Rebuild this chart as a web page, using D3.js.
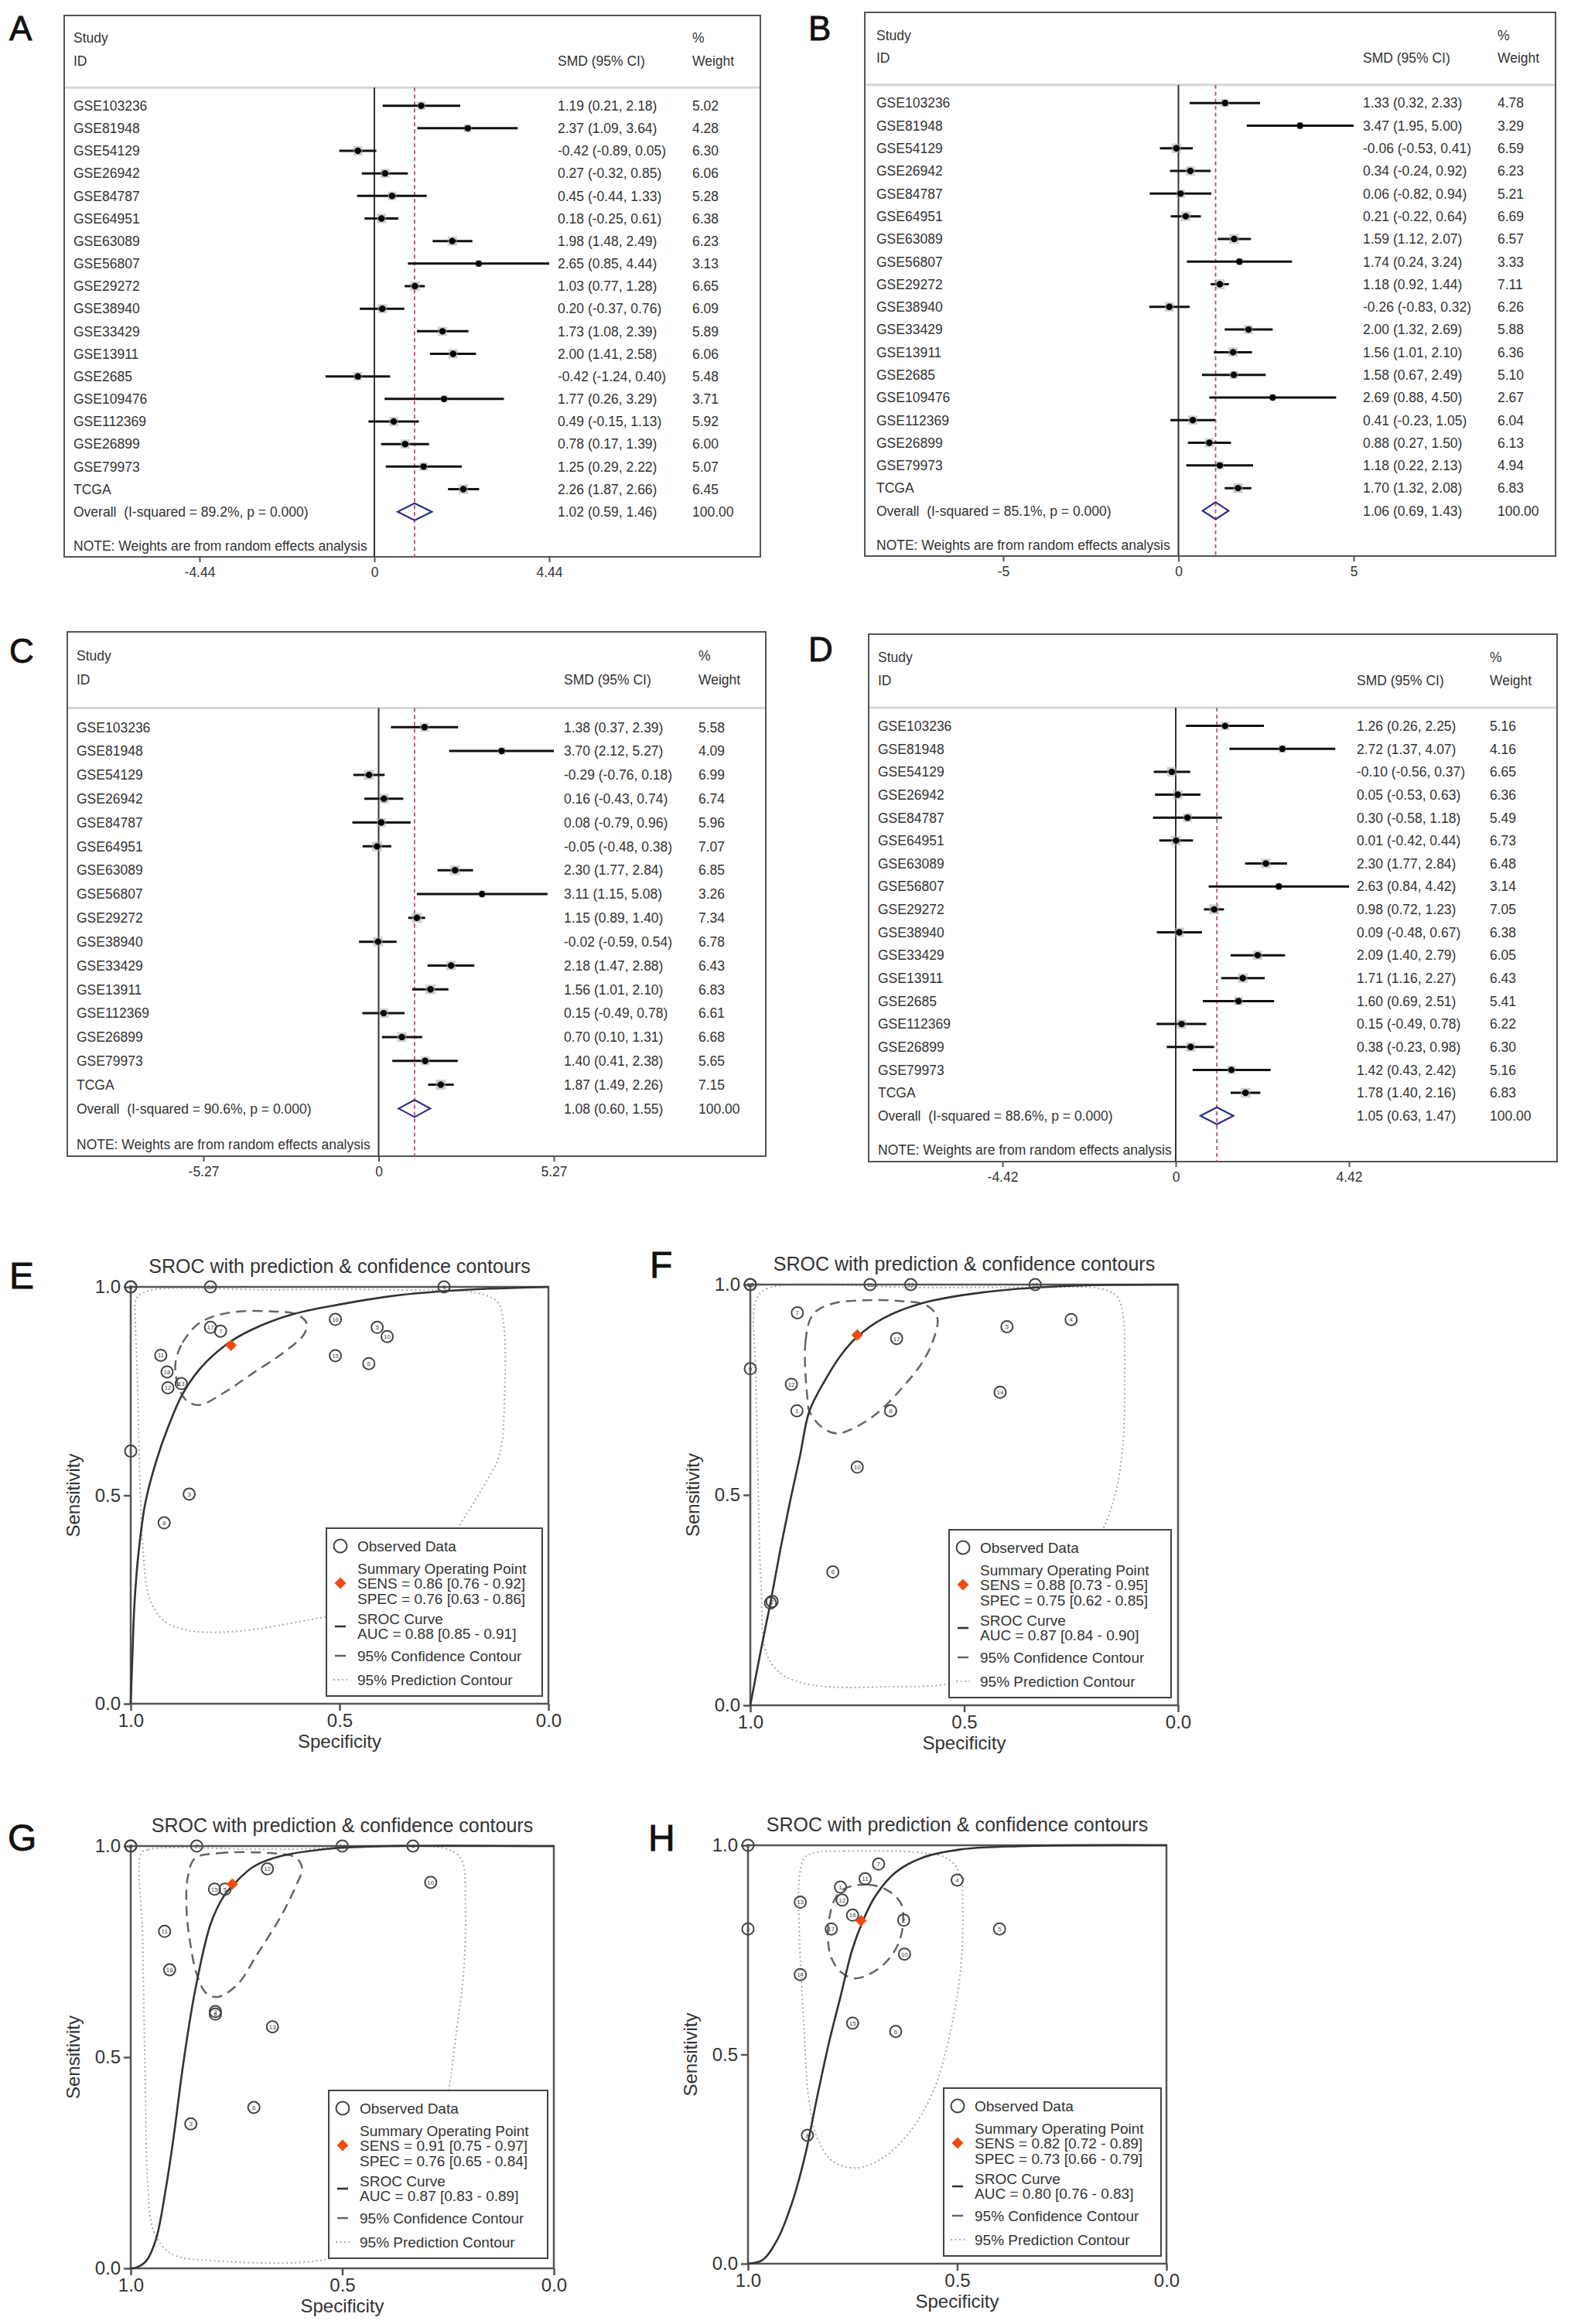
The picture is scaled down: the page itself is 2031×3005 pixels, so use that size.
<!DOCTYPE html>
<html>
<head>
<meta charset="utf-8">
<script src="https://cdn.jsdelivr.net/npm/d3@7"></script>
<style>
  body { margin: 0; background: #fff; }
  svg { display: block; }
  text { font-family: "Liberation Sans", Arial, Helvetica, sans-serif; }
</style>
</head>
<body>
<div id="chart"></div>
<script>
// ---------- forest plot data ----------
const studiesAB = ["GSE103236","GSE81948","GSE54129","GSE26942","GSE84787","GSE64951","GSE63089","GSE56807","GSE29272","GSE38940","GSE33429","GSE13911","GSE2685","GSE109476","GSE112369","GSE26899","GSE79973","TCGA"];
const studiesC = ["GSE103236","GSE81948","GSE54129","GSE26942","GSE84787","GSE64951","GSE63089","GSE56807","GSE29272","GSE38940","GSE33429","GSE13911","GSE112369","GSE26899","GSE79973","TCGA"];
const studiesD = ["GSE103236","GSE81948","GSE54129","GSE26942","GSE84787","GSE64951","GSE63089","GSE56807","GSE29272","GSE38940","GSE33429","GSE13911","GSE2685","GSE112369","GSE26899","GSE79973","TCGA"];

// [SMD, lower CI, upper CI, % weight]
const forestA = [[1.19,0.21,2.18,5.02],[2.37,1.09,3.64,4.28],[-0.42,-0.89,0.05,6.30],[0.27,-0.32,0.85,6.06],[0.45,-0.44,1.33,5.28],[0.18,-0.25,0.61,6.38],[1.98,1.48,2.49,6.23],[2.65,0.85,4.44,3.13],[1.03,0.77,1.28,6.65],[0.20,-0.37,0.76,6.09],[1.73,1.08,2.39,5.89],[2.00,1.41,2.58,6.06],[-0.42,-1.24,0.40,5.48],[1.77,0.26,3.29,3.71],[0.49,-0.15,1.13,5.92],[0.78,0.17,1.39,6.00],[1.25,0.29,2.22,5.07],[2.26,1.87,2.66,6.45]];
const forestB = [[1.33,0.32,2.33,4.78],[3.47,1.95,5.00,3.29],[-0.06,-0.53,0.41,6.59],[0.34,-0.24,0.92,6.23],[0.06,-0.82,0.94,5.21],[0.21,-0.22,0.64,6.69],[1.59,1.12,2.07,6.57],[1.74,0.24,3.24,3.33],[1.18,0.92,1.44,7.11],[-0.26,-0.83,0.32,6.26],[2.00,1.32,2.69,5.88],[1.56,1.01,2.10,6.36],[1.58,0.67,2.49,5.10],[2.69,0.88,4.50,2.67],[0.41,-0.23,1.05,6.04],[0.88,0.27,1.50,6.13],[1.18,0.22,2.13,4.94],[1.70,1.32,2.08,6.83]];
const forestC = [[1.38,0.37,2.39,5.58],[3.70,2.12,5.27,4.09],[-0.29,-0.76,0.18,6.99],[0.16,-0.43,0.74,6.74],[0.08,-0.79,0.96,5.96],[-0.05,-0.48,0.38,7.07],[2.30,1.77,2.84,6.85],[3.11,1.15,5.08,3.26],[1.15,0.89,1.40,7.34],[-0.02,-0.59,0.54,6.78],[2.18,1.47,2.88,6.43],[1.56,1.01,2.10,6.83],[0.15,-0.49,0.78,6.61],[0.70,0.10,1.31,6.68],[1.40,0.41,2.38,5.65],[1.87,1.49,2.26,7.15]];
const forestD = [[1.26,0.26,2.25,5.16],[2.72,1.37,4.07,4.16],[-0.10,-0.56,0.37,6.65],[0.05,-0.53,0.63,6.36],[0.30,-0.58,1.18,5.49],[0.01,-0.42,0.44,6.73],[2.30,1.77,2.84,6.48],[2.63,0.84,4.42,3.14],[0.98,0.72,1.23,7.05],[0.09,-0.48,0.67,6.38],[2.09,1.40,2.79,6.05],[1.71,1.16,2.27,6.43],[1.60,0.69,2.51,5.41],[0.15,-0.49,0.78,6.22],[0.38,-0.23,0.98,6.30],[1.42,0.43,2.42,5.16],[1.78,1.40,2.16,6.83]];

const overallA = [1.02,0.59,1.46], isqA = "89.2%";
const overallB = [1.06,0.69,1.43], isqB = "85.1%";
const overallC = [1.08,0.60,1.55], isqC = "90.6%";
const overallD = [1.05,0.63,1.47], isqD = "88.6%";

const ticksA = [-4.44, 0, 4.44];
const ticksB = [-5, 0, 5];
const ticksC = [-5.27, 0, 5.27];
const ticksD = [-4.42, 0, 4.42];

// ---------- SROC data: [specificity, sensitivity, study no.] ----------
const pointsE = [[1,1,2],[1,1,9],[.809,1,14],[.25,1,4],[.51,.922,16],[.809,.903,17],[.785,.894,7],[.41,.903,5],[.386,.881,10],[.928,.836,11],[.51,.835,15],[.43,.816,6],[.913,.796,18],[.911,.758,12],[.879,.768,13],[1,.606,1],[.86,.503,3],[.92,.434,8]];
const pointsF = [[1,1,16],[1,1,18],[.72,1,11],[.625,1,13],[.334,1,15],[.89,.933,7],[.25,.917,4],[.40,.90,5],[.658,.872,17],[1,.80,9],[.904,.763,12],[.416,.744,14],[.891,.70,1],[.672,.70,8],[.75,.566,10],[.807,.317,6],[.953,.243,3],[.949,.247,2]];
const pointsG = [[1,1,1],[1,1,9],[.844,1,7],[.50,1,14],[.333,1,4],[.677,.946,12],[.291,.914,10],[.802,.898,15],[.777,.898,5],[.92,.798,11],[.908,.707,16],[.80,.602,8],[.80,.608,2],[.665,.572,13],[.709,.381,6],[.858,.342,3]];
const pointsH = [[1,1,9],[.688,.955,7],[.72,.92,11],[.50,.917,4],[.779,.90,1],[.875,.864,13],[.775,.869,12],[.75,.833,16],[.628,.821,2],[1,.80,3],[.801,.80,17],[.399,.80,5],[.626,.74,10],[.875,.691,14],[.75,.575,15],[.647,.555,6],[.858,.307,8]];

const summaryE = [0.76, 0.86], summaryF = [0.75, 0.88], summaryG = [0.76, 0.91], summaryH = [0.73, 0.82];

// SROC curves [spec, sens]
const curveE = [[1,0],[.996,.114],[.991,.24],[.981,.365],[.965,.482],[.939,.582],[.91,.665],[.876,.743],[.833,.805],[.768,.864],[.709,.898],[.61,.935],[.494,.959],[.351,.981],[.196,.993],[0,1]];
const curveF = [[1,0],[.977,.122],[.953,.243],[.93,.369],[.907,.485],[.884,.592],[.862,.699],[.825,.773],[.789,.831],[.751,.875],[.689,.92],[.598,.956],[.461,.981],[.279,.996],[0,1]];
const curveG = [[1,0],[.986,.002],[.963,.018],[.94,.07],[.917,.189],[.899,.308],[.876,.483],[.848,.657],[.811,.816],[.779,.883],[.755,.911],[.71,.951],[.646,.976],[.526,.994],[.388,1],[0,1]];
const curveH = [[1,0],[.965,.009],[.928,.061],[.891,.157],[.863,.261],[.835,.397],[.807,.526],[.779,.638],[.751,.75],[.726,.818],[.696,.878],[.649,.934],[.584,.97],[.492,.99],[.353,.998],[0,1]];

// 95% confidence contours
const confE = [[.892,.823],[.876,.866],[.839,.911],[.796,.931],[.74,.941],[.66,.941],[.605,.935],[.579,.913],[.586,.885],[.635,.842],[.709,.792],[.772,.749],[.833,.717],[.857,.721],[.874,.736],[.891,.781]];
const confF = [[.866,.724],[.871,.864],[.853,.93],[.807,.955],[.725,.963],[.652,.961],[.589,.951],[.563,.922],[.571,.872],[.598,.815],[.643,.757],[.698,.699],[.752,.662],[.798,.646],[.834,.662],[.862,.699]];
const confG = [[.848,.971],[.793,.983],[.664,.983],[.609,.972],[.595,.947],[.609,.907],[.646,.832],[.701,.744],[.747,.673],[.793,.643],[.821,.651],[.844,.697],[.859,.768],[.868,.848],[.865,.927]];
const confH = [[.77,.896],[.714,.906],[.668,.893],[.635,.862],[.629,.822],[.64,.766],[.673,.718],[.714,.69],[.747,.682],[.779,.698],[.802,.734],[.809,.782],[.805,.83],[.793,.87]];

// 95% prediction contours
const predE = [[.987,.971],[.961,.99],[.662,.993],[.382,.993],[.168,.985],[.121,.962],[.107,.908],[.105,.741],[.117,.599],[.159,.516],[.215,.424],[.289,.298],[.429,.232],[.569,.202],[.756,.173],[.868,.177],[.924,.202],[.956,.256],[.97,.365],[.978,.532],[.984,.783],[.989,.925]];
const predF = [[.987,.961],[.962,.99],[.598,.993],[.325,.993],[.179,.99],[.143,.972],[.129,.93],[.125,.782],[.129,.617],[.147,.501],[.179,.411],[.252,.287],[.37,.163],[.507,.06],[.689,.044],[.853,.048],[.925,.073],[.962,.122],[.975,.287],[.982,.534],[.987,.782]];
const predG = [[.975,.983],[.959,.992],[.664,.992],[.25,.992],[.218,.967],[.209,.863],[.213,.705],[.232,.546],[.25,.417],[.296,.268],[.434,.07],[.535,.022],[.802,.018],[.903,.034],[.945,.086],[.959,.189],[.966,.467],[.972,.784]];
const predH = [[.844,.982],[.77,.986],[.584,.982],[.519,.966],[.492,.926],[.487,.862],[.492,.702],[.519,.542],[.557,.413],[.612,.317],[.677,.253],[.742,.229],[.798,.245],[.835,.301],[.855,.397],[.867,.582],[.877,.782],[.877,.926],[.865,.97]];

const legendE = ["SENS = 0.86 [0.76 - 0.92]", "SPEC = 0.76 [0.63 - 0.86]", "AUC = 0.88 [0.85 - 0.91]"];
const legendF = ["SENS = 0.88 [0.73 - 0.95]", "SPEC = 0.75 [0.62 - 0.85]", "AUC = 0.87 [0.84 - 0.90]"];
const legendG = ["SENS = 0.91 [0.75 - 0.97]", "SPEC = 0.76 [0.65 - 0.84]", "AUC = 0.87 [0.83 - 0.89]"];
const legendH = ["SENS = 0.82 [0.72 - 0.89]", "SPEC = 0.73 [0.66 - 0.79]", "AUC = 0.80 [0.76 - 0.83]"];

// ---------- drawing ----------
const W = 2031, H = 3005;
const svg = d3.select("#chart").append("svg")
    .attr("width", W).attr("height", H)
    .attr("viewBox", [0, 0, W, H]);
svg.append("rect").attr("width", W).attr("height", H).attr("fill", "#fff");

const ink = "#333";
const fmt = v => v.toFixed(2);

function panelLetter(name, pos, size) {
    svg.append("text").attr("x", pos[0]).attr("y", pos[1])
        .attr("font-size", size).attr("fill", "#111")
        .attr("stroke", "#111").attr("stroke-width", 0.8)
        .text(name);
}

function forest(p) {
    const n = p.studies.length;
    const g = svg.append("g");
    const row = d3.scaleLinear().domain([-4, n + 2]).range([p.top, p.bottom]);
    const x = d3.scaleLinear().domain([p.ticks[0], p.ticks[2]]).range(p.xr);
    const sep = row(-0.8);

    const txt = (xx, yy, s) => g.append("text")
        .attr("x", xx).attr("y", yy).attr("dy", "0.36em")
        .attr("font-size", 17.5).attr("fill", ink)
        .style("white-space", "pre")
        .text(s);

    g.append("rect")
        .attr("x", p.left).attr("y", p.top)
        .attr("width", p.right - p.left).attr("height", p.bottom - p.top)
        .attr("fill", "none").attr("stroke", "#555").attr("stroke-width", 2);
    g.append("line")
        .attr("x1", p.left + 1).attr("x2", p.right - 1).attr("y1", sep).attr("y2", sep)
        .attr("stroke", "#d6d6d6").attr("stroke-width", 3);

    txt(p.labelX, row(-3), "Study");
    txt(p.labelX, row(-2), "ID");
    txt(p.smdX, row(-2), "SMD (95% CI)");
    txt(p.wX, row(-3), "%");
    txt(p.wX, row(-2), "Weight");

    // no-effect line and overall line
    g.append("line")
        .attr("x1", x(0)).attr("x2", x(0)).attr("y1", sep).attr("y2", p.bottom)
        .attr("stroke", "#333").attr("stroke-width", 2);
    g.append("line")
        .attr("x1", x(p.overall[0])).attr("x2", x(p.overall[0])).attr("y1", sep).attr("y2", p.bottom)
        .attr("stroke", "#c24a72").attr("stroke-width", 1.8).attr("stroke-dasharray", "5,4");

    const rows = g.append("g").selectAll("g")
        .data(p.values)
        .join("g")
        .attr("transform", (d, i) => `translate(0,${row(i)})`);
    rows.append("line")
        .attr("x1", d => x(d[1])).attr("x2", d => x(d[2]))
        .attr("stroke", "#111").attr("stroke-width", 3);
    rows.append("rect")
        .attr("x", d => x(d[0]) - 2.4 * Math.sqrt(d[3]))
        .attr("y", d => -2.4 * Math.sqrt(d[3]))
        .attr("width", d => 4.8 * Math.sqrt(d[3]))
        .attr("height", d => 4.8 * Math.sqrt(d[3]))
        .attr("fill", "#a8a8a8").attr("opacity", 0.55);
    rows.append("circle")
        .attr("cx", d => x(d[0])).attr("r", 4.2).attr("fill", "#000");
    rows.append("text")
        .attr("x", p.labelX).attr("dy", "0.36em")
        .attr("font-size", 17.5).attr("fill", ink)
        .text((d, i) => p.studies[i]);
    rows.append("text")
        .attr("x", p.smdX).attr("dy", "0.36em")
        .attr("font-size", 17.5).attr("fill", ink)
        .text(d => `${fmt(d[0])} (${fmt(d[1])}, ${fmt(d[2])})`);
    rows.append("text")
        .attr("x", p.wX).attr("dy", "0.36em")
        .attr("font-size", 17.5).attr("fill", ink)
        .text(d => fmt(d[3]));

    // overall
    const yo = row(n), o = p.overall;
    g.append("path")
        .attr("d", `M${x(o[1])},${yo}L${x(o[0])},${yo - 11}L${x(o[2])},${yo}L${x(o[0])},${yo + 11}Z`)
        .attr("fill", "none").attr("stroke", "#2e2e86").attr("stroke-width", 2.2);
    txt(p.labelX, yo, `Overall  (I-squared = ${p.isq}, p = 0.000)`);
    txt(p.smdX, yo, `${fmt(o[0])} (${fmt(o[1])}, ${fmt(o[2])})`);
    txt(p.wX, yo, "100.00");
    txt(p.labelX, row(n + 1.5), "NOTE: Weights are from random effects analysis");

    // axis
    const ax = g.append("g")
        .attr("transform", `translate(0,${p.bottom})`)
        .call(d3.axisBottom(x)
            .tickValues(p.ticks)
            .tickSize(7).tickPadding(7)
            .tickFormat(d => Number.isInteger(d) ? String(d) : d.toFixed(2)));
    ax.select(".domain").remove();
    ax.selectAll(".tick line").attr("stroke", "#555").attr("stroke-width", 2);
    ax.selectAll(".tick text").attr("font-size", 17.5).attr("fill", ink)
        .attr("font-family", "Liberation Sans, Arial, sans-serif");

    panelLetter(p.name, p.letter, 44);
}

function sroc(p) {
    const g = svg.append("g");
    const x = d3.scaleLinear().domain([1, 0]).range([p.x0, p.x1]);
    const y = d3.scaleLinear().domain([0, 1]).range([p.y1, p.y0]);
    const line = d3.line().x(d => x(d[0])).y(d => y(d[1]));

    g.append("path")
        .attr("d", line.curve(d3.curveCatmullRomClosed)(p.pred))
        .attr("fill", "none").attr("stroke", "#aaa").attr("stroke-width", 2)
        .attr("stroke-dasharray", "2,3.5");
    g.append("path")
        .attr("d", line.curve(d3.curveCatmullRomClosed)(p.conf))
        .attr("fill", "none").attr("stroke", "#666").attr("stroke-width", 2.5)
        .attr("stroke-dasharray", "13,8");

    // frame + ticks
    g.append("rect")
        .attr("x", p.x0).attr("y", p.y0)
        .attr("width", p.x1 - p.x0).attr("height", p.y1 - p.y0)
        .attr("fill", "none").attr("stroke", "#555").attr("stroke-width", 2.5);
    const ay = g.append("g").attr("transform", `translate(${p.x0},0)`)
        .call(d3.axisLeft(y).tickValues([0, 0.5, 1]).tickSize(9).tickPadding(4).tickFormat(d3.format(".1f")));
    const axb = g.append("g").attr("transform", `translate(0,${p.y1})`)
        .call(d3.axisBottom(x).tickValues([1, 0.5, 0]).tickSize(9).tickPadding(4).tickFormat(d3.format(".1f")));
    [ay, axb].forEach(a => {
        a.select(".domain").remove();
        a.selectAll(".tick line").attr("stroke", "#555").attr("stroke-width", 2.5);
        a.selectAll(".tick text").attr("font-size", 24).attr("fill", ink)
            .attr("font-family", "Liberation Sans, Arial, sans-serif");
    });

    g.append("path")
        .attr("d", line.curve(d3.curveCatmullRom)(p.curve))
        .attr("fill", "none").attr("stroke", "#333").attr("stroke-width", 2.6);

    const pts = g.append("g").selectAll("g")
        .data(p.points)
        .join("g")
        .attr("transform", d => `translate(${x(d[0])},${y(d[1])})`);
    pts.append("circle").attr("r", 7.5)
        .attr("fill", "none").attr("stroke", "#444").attr("stroke-width", 2);
    pts.append("text").attr("text-anchor", "middle").attr("dy", "0.36em")
        .attr("font-size", 8).attr("fill", "#444").text(d => d[2]);

    g.append("path")
        .attr("transform", `translate(${x(p.summary[0])},${y(p.summary[1])}) rotate(45)`)
        .attr("d", d3.symbol(d3.symbolSquare, 110)())
        .attr("fill", "#f04a12");

    // titles
    g.append("text").attr("x", (p.x0 + p.x1) / 2).attr("y", p.y0 - 27).attr("dy", "0.36em")
        .attr("text-anchor", "middle").attr("font-size", 25).attr("fill", ink)
        .text("SROC with prediction & confidence contours");
    g.append("text").attr("x", (p.x0 + p.x1) / 2).attr("y", p.y1 + 48).attr("dy", "0.36em")
        .attr("text-anchor", "middle").attr("font-size", 24).attr("fill", ink)
        .text("Specificity");
    g.append("text")
        .attr("transform", `translate(${p.x0 - 75},${(p.y0 + p.y1) / 2}) rotate(-90)`)
        .attr("dy", "0.36em").attr("text-anchor", "middle").attr("font-size", 24).attr("fill", ink)
        .text("Sensitivity");

    // legend
    const [lx, ly, lr] = p.legendBox;
    const lg = g.append("g").attr("transform", `translate(${lx},${ly})`);
    lg.append("rect").attr("width", lr - lx).attr("height", 217)
        .attr("fill", "#fff").attr("stroke", "#444").attr("stroke-width", 2);
    const rowsY = [23, 52, 71, 91, 117, 136, 165, 196];
    const labels = ["Observed Data", "Summary Operating Point", p.legend[0], p.legend[1],
        "SROC Curve", p.legend[2], "95% Confidence Contour", "95% Prediction Contour"];
    lg.selectAll("text.lab").data(labels).join("text")
        .attr("class", "lab")
        .attr("x", 40).attr("y", (d, i) => rowsY[i]).attr("dy", "0.36em")
        .attr("font-size", 19).attr("fill", ink)
        .text(d => d);
    lg.append("circle").attr("cx", 18).attr("cy", rowsY[0]).attr("r", 8.5)
        .attr("fill", "none").attr("stroke", "#444").attr("stroke-width", 2);
    lg.append("path").attr("transform", `translate(18,${rowsY[2]}) rotate(45)`)
        .attr("d", d3.symbol(d3.symbolSquare, 110)()).attr("fill", "#f04a12");
    lg.append("line").attr("x1", 11).attr("x2", 25).attr("y1", 127).attr("y2", 127)
        .attr("stroke", "#333").attr("stroke-width", 2.6);
    lg.append("line").attr("x1", 11).attr("x2", 25).attr("y1", rowsY[6]).attr("y2", rowsY[6])
        .attr("stroke", "#666").attr("stroke-width", 2.5);
    lg.append("line").attr("x1", 9).attr("x2", 27).attr("y1", rowsY[7]).attr("y2", rowsY[7])
        .attr("stroke", "#aaa").attr("stroke-width", 2).attr("stroke-dasharray", "2,3.5");

    panelLetter(p.name, p.letter, 48);
}

forest({ name: "A", letter: [12, 52], studies: studiesAB, values: forestA, overall: overallA, isq: isqA, ticks: ticksA,
    left: 83, right: 983, top: 20, bottom: 720, xr: [258, 710], labelX: 95, smdX: 721, wX: 895 });
forest({ name: "B", letter: [1045, 52], studies: studiesAB, values: forestB, overall: overallB, isq: isqB, ticks: ticksB,
    left: 1118, right: 2011, top: 16, bottom: 719, xr: [1297, 1750], labelX: 1133, smdX: 1762, wX: 1936 });
forest({ name: "C", letter: [12, 857], studies: studiesC, values: forestC, overall: overallC, isq: isqC, ticks: ticksC,
    left: 87, right: 990, top: 817, bottom: 1495, xr: [263, 716], labelX: 99, smdX: 729, wX: 903 });
forest({ name: "D", letter: [1045, 855], studies: studiesD, values: forestD, overall: overallD, isq: isqD, ticks: ticksD,
    left: 1123, right: 2013, top: 820, bottom: 1502, xr: [1296, 1744], labelX: 1135, smdX: 1754, wX: 1926 });

sroc({ name: "E", letter: [12, 1666], x0: 169, x1: 709, y0: 1664, y1: 2203, legendBox: [422, 1976, 701],
    points: pointsE, summary: summaryE, curve: curveE, conf: confE, pred: predE, legend: legendE });
sroc({ name: "F", letter: [840, 1652], x0: 970, x1: 1523, y0: 1661, y1: 2205, legendBox: [1227, 1978, 1514],
    points: pointsF, summary: summaryF, curve: curveF, conf: confF, pred: predF, legend: legendF });
sroc({ name: "G", letter: [10, 2393], x0: 169, x1: 716, y0: 2387, y1: 2933, legendBox: [425, 2703, 708],
    points: pointsG, summary: summaryG, curve: curveG, conf: confG, pred: predG, legend: legendG });
sroc({ name: "H", letter: [838, 2393], x0: 967, x1: 1508, y0: 2386, y1: 2927, legendBox: [1220, 2700, 1501],
    points: pointsH, summary: summaryH, curve: curveH, conf: confH, pred: predH, legend: legendH });
</script>
</body>
</html>
